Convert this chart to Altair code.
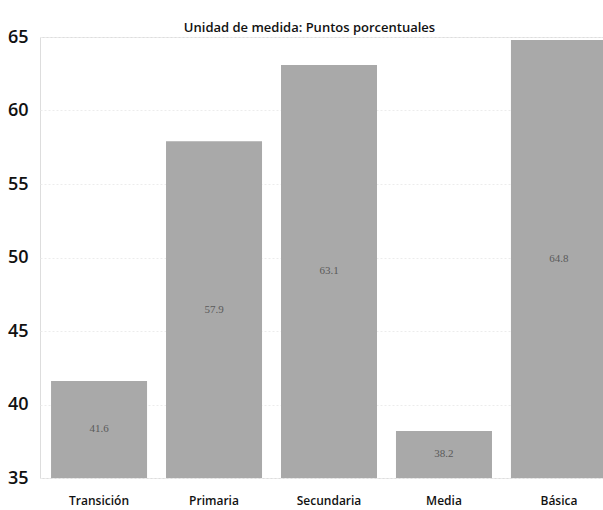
import altair as alt
import pandas as pd

# Nivel educativo y valor en puntos porcentuales
niveles = ["Transición", "Primaria", "Secundaria", "Media", "Básica"]
valores = [41.6, 57.9, 63.1, 38.2, 64.8]
y_ticks = [35, 40, 45, 50, 55, 60, 65]

df = pd.DataFrame({"nivel": niveles, "valor": valores})

x_scale = alt.Scale(range=[0, 578], paddingInner=0.165, paddingOuter=0.096)

x_enc = alt.X(
    "nivel:N",
    sort=niveles,
    scale=x_scale,
    axis=alt.Axis(
        title=None, labelAngle=0, ticks=False, domain=False, labelPadding=17,
        labelFont="Open Sans", labelFontSize=12, labelFontWeight=600,
        labelColor="#111111", grid=False,
    ),
)

y_scale = alt.Scale(domain=[35, 65], nice=False, zero=False)

bars = alt.Chart(df).mark_bar(color="#a9a9a9", clip=True).encode(
    x=x_enc,
    y=alt.Y(
        "valor:Q",
        scale=y_scale,
        axis=alt.Axis(
            title=None, values=y_ticks, ticks=False, domain=False,
            labelPadding=12, labelFont="Open Sans", labelFontSize=18,
            labelFontWeight=600, labelColor="#111111",
            gridColor="#ececec", gridDash=[2, 2], gridWidth=1,
        ),
    ),
    y2=alt.datum(35),
)

# Valor escrito a media altura de cada barra
labels = alt.Chart(df).transform_calculate(
    mid="(datum.valor + 35) / 2"
).mark_text(
    font="Liberation Serif", fontSize=11, color="#5a5a5a", baseline="middle"
).encode(
    x=alt.X("nivel:N", sort=niveles, scale=x_scale),
    y=alt.Y("mid:Q", scale=y_scale),
    text=alt.Text("valor:Q", format=".1f"),
)

chart = (bars + labels).properties(
    width=563,
    height=441,
    title=alt.TitleParams(
        "Unidad de medida: Puntos porcentuales",
        font="Open Sans", fontSize=13, fontWeight=600, color="#111111",
        anchor="middle", frame="group", offset=-7, dx=-12,
    ),
    autosize=alt.AutoSizeParams(type="none"),
    padding={"left": 40, "top": 37, "right": 0, "bottom": 32},
).configure_view(stroke=None).configure(background="white")

chart.save("out.html", embed_options={"renderer": "svg", "actions": False})
